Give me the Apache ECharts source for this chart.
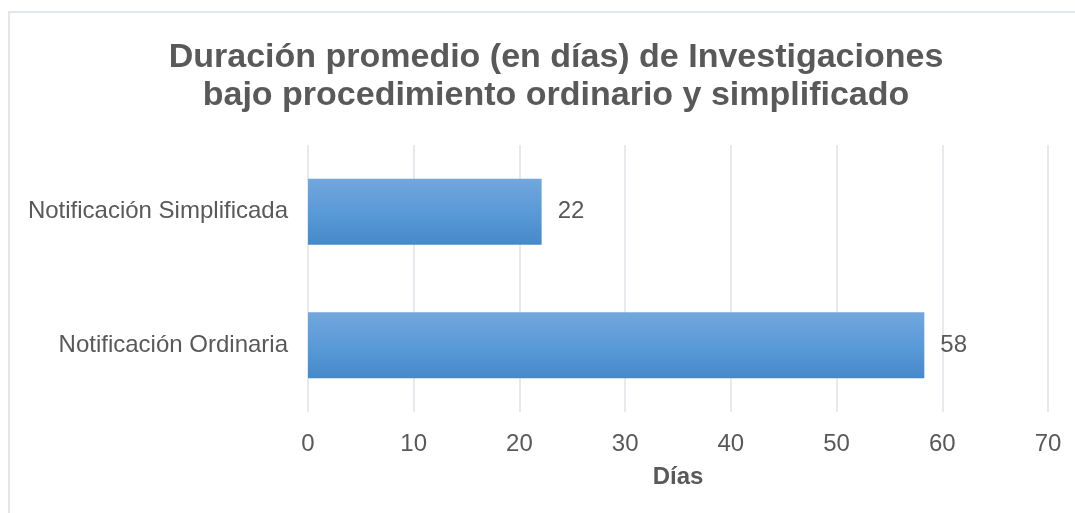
<!DOCTYPE html>
<html>
<head>
<meta charset="utf-8">
<script src="https://cdn.jsdelivr.net/npm/echarts@6/dist/echarts.min.js"></script>
<style>
  html, body { margin: 0; padding: 0; background: #fff; }
  #chart { width: 1075px; height: 513px; }
</style>
</head>
<body>
<div id="chart"></div>
<script>
// categories from bottom to top
const categories = ['Notificación Ordinaria', 'Notificación Simplificada'];
const dias = [58.3, 22.1];
const axisMin = 0;
const axisMax = 70;
const axisStep = 10;

const textColor = '#595959';
const font = '"Liberation Sans", Arial, sans-serif';

const chart = echarts.init(document.getElementById('chart'));

chart.setOption({
    animation: false,
    textStyle: { fontFamily: font },
    title: {
        text: 'Duración promedio (en días) de Investigaciones\nbajo procedimiento ordinario y simplificado',
        left: 551,
        top: 34,
        textAlign: 'center',
        textStyle: {
            fontFamily: font,
            fontSize: 34,
            fontWeight: 'bold',
            color: textColor,
            lineHeight: 38
        }
    },
    graphic: [{
        type: 'rect',
        shape: { x: 9, y: 12, width: 1200, height: 600 },
        style: { fill: 'none', stroke: '#e3e7ec', lineWidth: 2 },
        silent: true
    }],
    grid: { left: 308, right: 27, top: 145, bottom: 101, containLabel: false },
    xAxis: {
        type: 'value',
        min: axisMin,
        max: axisMax,
        interval: axisStep,
        name: 'Días',
        nameLocation: 'middle',
        nameGap: 53,
        nameTextStyle: { fontSize: 24, fontWeight: 'bold', color: textColor, fontFamily: font },
        axisLine: { show: false },
        axisTick: { show: false },
        axisLabel: { fontSize: 24, color: textColor, margin: 20, fontFamily: font },
        splitLine: { lineStyle: { color: '#dde3ea', width: 1.5 } }
    },
    yAxis: {
        type: 'category',
        data: categories,
        axisLine: { show: false },
        axisTick: { show: false },
        axisLabel: { fontSize: 24, color: textColor, margin: 20, fontFamily: font }
    },
    series: [{
        type: 'bar',
        data: dias,
        barWidth: 66,
        itemStyle: {
            color: new echarts.graphic.LinearGradient(0, 0, 0, 1, [
                { offset: 0, color: '#72a7dc' },
                { offset: 0.5, color: '#5a9ad8' },
                { offset: 1, color: '#4689c9' }
            ])
        },
        label: {
            show: true,
            position: 'right',
            distance: 16,
            fontSize: 24,
            color: textColor,
            fontFamily: font,
            formatter: p => Math.round(p.value)
        }
    }]
});

window.addEventListener('resize', () => chart.resize());
</script>
</body>
</html>
